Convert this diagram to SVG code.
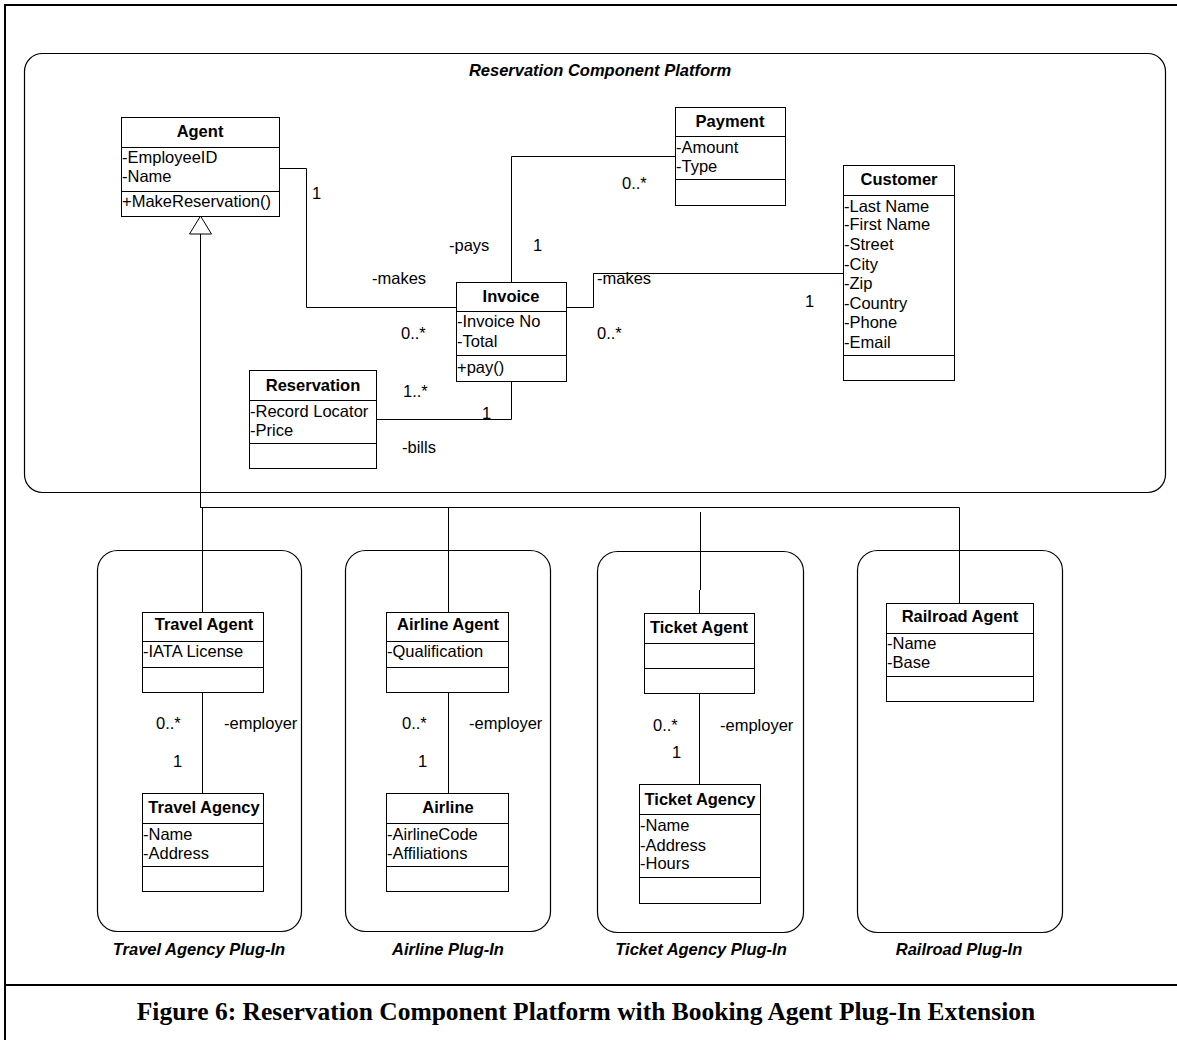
<svg xmlns="http://www.w3.org/2000/svg" width="1177" height="1040" viewBox="0 0 1177 1040">
<defs>
<style>
.box{fill:#fff;stroke:#000;stroke-width:1}
.pl{fill:none;stroke:#000;stroke-width:1.2}
.ln{fill:none;stroke:#000;stroke-width:1}
.dv{stroke:#000;stroke-width:1}
.t{font-family:"Liberation Sans",Arial,sans-serif;font-size:16.5px;fill:#000}
.b{font-weight:bold}
.c{text-anchor:middle}
.it{font-weight:bold;font-style:italic}
.cap{font-family:"Liberation Serif","Times New Roman",serif;font-size:25.5px;font-weight:bold;text-anchor:middle;fill:#000}
</style>
<marker id="gen" viewBox="0 0 19 23" refX="18.5" refY="11.5" markerWidth="19" markerHeight="23" markerUnits="userSpaceOnUse" orient="auto">
<path d="M0.5,0.5 L18.5,11.5 L0.5,22.5 Z" fill="#fff" stroke="#000" stroke-width="1"/>
</marker>
</defs>
<rect x="0" y="0" width="1177" height="1040" fill="#fff"/>
<g id="frame">
<path d="M5,1040 V5 H1177" fill="none" stroke="#000" stroke-width="2"/>
<line x1="5" y1="985" x2="1177" y2="985" stroke="#000" stroke-width="2"/>
<text class="cap" x="586" y="1020">Figure 6: Reservation Component Platform with Booking Agent Plug-In Extension</text>
</g>
<g id="platform">
<rect class="pl" x="24.5" y="53.5" width="1141" height="439" rx="18" ry="18"/>
<text class="t it c" x="600" y="76">Reservation Component Platform</text>
</g>
<g id="plugin-travel">
<rect class="pl" x="97.5" y="550.5" width="204" height="381" rx="20" ry="20"/>
<text class="t it c" x="199" y="955">Travel Agency Plug-In</text>
</g>
<g id="plugin-airline">
<rect class="pl" x="345.5" y="550.5" width="205" height="381" rx="20" ry="20"/>
<text class="t it c" x="448" y="955">Airline Plug-In</text>
</g>
<g id="plugin-ticket">
<rect class="pl" x="597.5" y="551.5" width="206" height="381" rx="20" ry="20"/>
<text class="t it c" x="701" y="955">Ticket Agency Plug-In</text>
</g>
<g id="plugin-railroad">
<rect class="pl" x="857.5" y="550.5" width="205" height="382" rx="20" ry="20"/>
<text class="t it c" x="959" y="955">Railroad Plug-In</text>
</g>
<g id="connectors">
<path class="ln" d="M279,168.5 H306.5 V307.5 H456"/>
<path class="ln" d="M511.5,282 V156.5 H675"/>
<path class="ln" d="M566,307.5 H593.5 V273.5 H843"/>
<path class="ln" d="M376,419.5 H511.5 V381"/>
<path class="ln" d="M200.5,508 V216" marker-end="url(#gen)"/>
<path class="ln" d="M200,507.5 H959.5 V603"/>
<path class="ln" d="M202.5,507.5 V612"/>
<path class="ln" d="M448.5,507.5 V612"/>
<path class="ln" d="M700.5,512 V590 M699.5,590 V613"/>
<path class="ln" d="M202.5,692 V793"/>
<path class="ln" d="M448.5,692 V793"/>
<path class="ln" d="M699.5,693 V784"/>
<text class="t" x="312" y="199">1</text>
<text class="t" x="372" y="284">-makes</text>
<text class="t" x="401" y="339">0..*</text>
<text class="t" x="449" y="251">-pays</text>
<text class="t" x="533" y="251">1</text>
<text class="t" x="622" y="189">0..*</text>
<text class="t" x="597" y="284">-makes</text>
<text class="t" x="597" y="339">0..*</text>
<text class="t" x="805" y="307">1</text>
<text class="t" x="403" y="397">1..*</text>
<text class="t" x="482" y="419">1</text>
<text class="t" x="402" y="453">-bills</text>
<text class="t" x="156" y="729">0..*</text>
<text class="t" x="224" y="729">-employer</text>
<text class="t" x="173" y="767">1</text>
<text class="t" x="402" y="729">0..*</text>
<text class="t" x="469" y="729">-employer</text>
<text class="t" x="418" y="767">1</text>
<text class="t" x="653" y="731">0..*</text>
<text class="t" x="720" y="731">-employer</text>
<text class="t" x="672" y="758">1</text>
</g>
<g id="agent">
<rect class="box" x="121.5" y="117.5" width="158" height="99"/>
<line class="dv" x1="121" y1="147.5" x2="279" y2="147.5"/>
<line class="dv" x1="121" y1="191.5" x2="279" y2="191.5"/>
<text class="t b c" x="200" y="137">Agent</text>
<text class="t" x="122" y="163">-EmployeeID</text>
<text class="t" x="122" y="182">-Name</text>
<text class="t" x="122" y="207">+MakeReservation()</text>
</g>
<g id="payment">
<rect class="box" x="675.5" y="107.5" width="110" height="98"/>
<line class="dv" x1="675" y1="136.5" x2="785" y2="136.5"/>
<line class="dv" x1="675" y1="179.5" x2="785" y2="179.5"/>
<text class="t b c" x="730" y="127">Payment</text>
<text class="t" x="676" y="153">-Amount</text>
<text class="t" x="676" y="172">-Type</text>
</g>
<g id="customer">
<rect class="box" x="843.5" y="165.5" width="111" height="215"/>
<line class="dv" x1="843" y1="195.5" x2="954" y2="195.5"/>
<line class="dv" x1="843" y1="355.5" x2="954" y2="355.5"/>
<text class="t b c" x="899" y="185">Customer</text>
<text class="t" x="844" y="212">-Last Name</text>
<text class="t" x="844" y="230">-First Name</text>
<text class="t" x="844" y="250">-Street</text>
<text class="t" x="844" y="270">-City</text>
<text class="t" x="844" y="289">-Zip</text>
<text class="t" x="844" y="309">-Country</text>
<text class="t" x="844" y="328">-Phone</text>
<text class="t" x="844" y="348">-Email</text>
</g>
<g id="invoice">
<rect class="box" x="456.5" y="282.5" width="110" height="99"/>
<line class="dv" x1="456" y1="311.5" x2="566" y2="311.5"/>
<line class="dv" x1="456" y1="355.5" x2="566" y2="355.5"/>
<text class="t b c" x="511" y="302">Invoice</text>
<text class="t" x="457" y="327">-Invoice No</text>
<text class="t" x="457" y="347">-Total</text>
<text class="t" x="457" y="373">+pay()</text>
</g>
<g id="reservation">
<rect class="box" x="249.5" y="370.5" width="127" height="98"/>
<line class="dv" x1="249" y1="400.5" x2="376" y2="400.5"/>
<line class="dv" x1="249" y1="443.5" x2="376" y2="443.5"/>
<text class="t b c" x="313" y="391">Reservation</text>
<text class="t" x="250" y="417">-Record Locator</text>
<text class="t" x="250" y="436">-Price</text>
</g>
<g id="travel-agent">
<rect class="box" x="142.5" y="612.5" width="121" height="80"/>
<line class="dv" x1="142" y1="641.5" x2="263" y2="641.5"/>
<line class="dv" x1="142" y1="667.5" x2="263" y2="667.5"/>
<text class="t b c" x="204" y="630">Travel Agent</text>
<text class="t" x="143" y="657">-IATA License</text>
</g>
<g id="travel-agency">
<rect class="box" x="142.5" y="793.5" width="121" height="98"/>
<line class="dv" x1="142" y1="823.5" x2="263" y2="823.5"/>
<line class="dv" x1="142" y1="866.5" x2="263" y2="866.5"/>
<text class="t b c" x="204" y="813">Travel Agency</text>
<text class="t" x="143" y="840">-Name</text>
<text class="t" x="143" y="859">-Address</text>
</g>
<g id="airline-agent">
<rect class="box" x="386.5" y="612.5" width="122" height="80"/>
<line class="dv" x1="386" y1="641.5" x2="508" y2="641.5"/>
<line class="dv" x1="386" y1="667.5" x2="508" y2="667.5"/>
<text class="t b c" x="448" y="630">Airline Agent</text>
<text class="t" x="387" y="657">-Qualification</text>
</g>
<g id="airline">
<rect class="box" x="386.5" y="793.5" width="122" height="98"/>
<line class="dv" x1="386" y1="823.5" x2="508" y2="823.5"/>
<line class="dv" x1="386" y1="866.5" x2="508" y2="866.5"/>
<text class="t b c" x="448" y="813">Airline</text>
<text class="t" x="387" y="840">-AirlineCode</text>
<text class="t" x="387" y="859">-Affiliations</text>
</g>
<g id="ticket-agent">
<rect class="box" x="644.5" y="613.5" width="110" height="80"/>
<line class="dv" x1="644" y1="643.5" x2="754" y2="643.5"/>
<line class="dv" x1="644" y1="668.5" x2="754" y2="668.5"/>
<text class="t b c" x="699" y="633">Ticket Agent</text>
</g>
<g id="ticket-agency">
<rect class="box" x="639.5" y="784.5" width="121" height="119"/>
<line class="dv" x1="639" y1="814.5" x2="760" y2="814.5"/>
<line class="dv" x1="639" y1="877.5" x2="760" y2="877.5"/>
<text class="t b c" x="700" y="805">Ticket Agency</text>
<text class="t" x="640" y="831">-Name</text>
<text class="t" x="640" y="851">-Address</text>
<text class="t" x="640" y="869">-Hours</text>
</g>
<g id="railroad-agent">
<rect class="box" x="886.5" y="603.5" width="147" height="98"/>
<line class="dv" x1="886" y1="633.5" x2="1033" y2="633.5"/>
<line class="dv" x1="886" y1="676.5" x2="1033" y2="676.5"/>
<text class="t b c" x="960" y="622">Railroad Agent</text>
<text class="t" x="887" y="649">-Name</text>
<text class="t" x="887" y="668">-Base</text>
</g>
</svg>
